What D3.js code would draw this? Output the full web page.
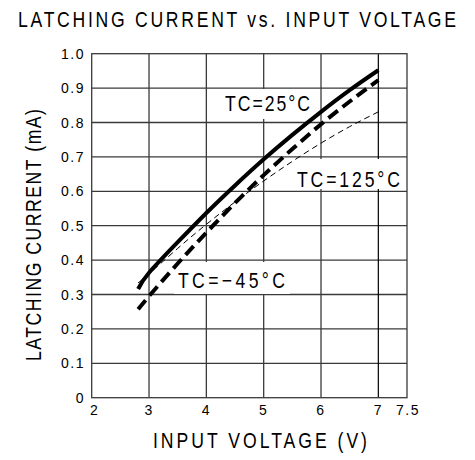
<!DOCTYPE html>
<html>
<head>
<meta charset="utf-8">
<script src="https://cdn.jsdelivr.net/npm/d3@7"></script>
<style>
  body { margin: 0; background: #fff; }
  svg text { font-family: "Liberation Sans", Arial, sans-serif; fill: #000; }
</style>
</head>
<body>
<div id="chart"></div>
<script>
// values
var voltage = [2.81, 3, 3.5, 4, 4.5, 5, 5.5, 6, 6.5, 7]
var tc25 = [0.316, 0.363, 0.452, 0.537, 0.617, 0.693, 0.764, 0.831, 0.894, 0.952]
var tcMinus45 = [0.257, 0.295, 0.39, 0.48, 0.566, 0.647, 0.723, 0.795, 0.861, 0.923]
var tc125 = [0.334, 0.36, 0.434, 0.504, 0.569, 0.63, 0.687, 0.74, 0.788, 0.831]

var xTicks = [2, 3, 4, 5, 6, 7, 7.5]
var xGrid = [3, 4, 5, 6, 7]
var yTicks = [0, 0.1, 0.2, 0.3, 0.4, 0.5, 0.6, 0.7, 0.8, 0.9, 1.0]

var width = 475, height = 460
var plot = {left: 91.7, right: 407, top: 53.7, bottom: 397.7}
var squeeze = 0.8   // the drawing uses a narrow, tall lettering

var svg = d3.select("#chart")
    .append("svg")
    .attr("width", width)
    .attr("height", height)

var x = d3.scaleLinear().domain([2, 7.5]).range([plot.left, plot.right])
var y = d3.scaleLinear().domain([0, 1]).range([plot.bottom, plot.top])

var grid = svg.append("g").attr("id", "grid")

grid.selectAll("line.h")
    .data(yTicks.slice(1, -1))
    .enter()
    .append("line")
    .attr("class", "h")
    .attr("x1", plot.left).attr("x2", plot.right)
    .attr("y1", (d) => y(d)).attr("y2", (d) => y(d))
    .attr("stroke", "#3a3a3a")
    .attr("stroke-width", 1.3)

grid.selectAll("line.v")
    .data(xGrid)
    .enter()
    .append("line")
    .attr("class", "v")
    .attr("x1", (d) => x(d)).attr("x2", (d) => x(d))
    .attr("y1", plot.top).attr("y2", plot.bottom)
    .attr("stroke", (d) => d === 7 ? "#000" : "#3a3a3a")
    .attr("stroke-width", (d) => d === 7 ? 1.2 : 1.3)

grid.append("rect")
    .attr("x", plot.left).attr("y", plot.top)
    .attr("width", plot.right - plot.left)
    .attr("height", plot.bottom - plot.top)
    .attr("fill", "none")
    .attr("stroke", "#3a3a3a")
    .attr("stroke-width", 1.3)

// white boxes behind curve labels (they cut the grid like in the drawing)
var labels = [
    {text: "TC=25°C", x: 225, y: 111, len: 85, box: [221, 89, 92, 30]},
    {text: "TC=125°C", x: 297, y: 187, len: 103, box: [292, 159, 112, 30]},
    {text: "TC=−45°C", x: 178, y: 288, len: 107, box: [174, 262, 116, 32]}
]

svg.append("g").selectAll("rect")
    .data(labels)
    .enter()
    .append("rect")
    .attr("x", (d) => d.box[0]).attr("y", (d) => d.box[1])
    .attr("width", (d) => d.box[2]).attr("height", (d) => d.box[3])
    .attr("fill", "#fff")

var series = [
    {values: tc125, width: 1, dash: "6,4"},
    {values: tcMinus45, width: 4, dash: "12,6"},
    {values: tc25, width: 4, dash: null}
]

var line = d3.line()
    .x((d) => x(d[0]))
    .y((d) => y(d[1]))
    .curve(d3.curveNatural)

svg.append("g").attr("id", "curves")
    .selectAll("path")
    .data(series)
    .enter()
    .append("path")
    .attr("d", (s) => line(voltage.map((v, i) => [v, s.values[i]])))
    .attr("fill", "none")
    .attr("stroke", "#000")
    .attr("stroke-width", (s) => s.width)
    .attr("stroke-dasharray", (s) => s.dash)

// narrow lettering: scale the glyphs in x, then spread them to the measured length
function narrowText(parent, str, tx, ty, rotate, size, len) {
    return parent.append("g")
        .attr("transform", "translate(" + tx + "," + ty + ") rotate(" + rotate + ") scale(" + squeeze + ",1)")
        .append("text")
        .attr("font-size", size)
        .attr("textLength", len / squeeze)
        .attr("lengthAdjust", "spacing")
        .text(str)
}

labels.forEach((d) => narrowText(svg, d.text, d.x, d.y, 0, 22, d.len))

// tick labels
svg.append("g").selectAll("text")
    .data(yTicks)
    .enter()
    .append("text")
    .attr("x", 85)
    .attr("y", (d) => y(d) + 5)
    .attr("text-anchor", "end")
    .attr("font-size", 14)
    .attr("letter-spacing", 1.5)
    .text((d) => d === 0 ? "0" : d3.format(".1f")(d))

svg.append("g").selectAll("text")
    .data(xTicks)
    .enter()
    .append("text")
    .attr("x", (d) => x(d) + (d === 2 ? 3 : 0) + (d === 7.5 ? 1 : 0))
    .attr("y", 415)
    .attr("text-anchor", "middle")
    .attr("font-size", 14)
    .attr("letter-spacing", 1.5)
    .text((d) => d)

// titles
narrowText(svg, "LATCHING CURRENT vs. INPUT VOLTAGE", 18, 27, 0, 22, 438)
narrowText(svg, "INPUT VOLTAGE (V)", 153, 448, 0, 22, 214)
narrowText(svg, "LATCHING CURRENT (mA)", 41, 361, -90, 22, 252)
</script>
</body>
</html>
